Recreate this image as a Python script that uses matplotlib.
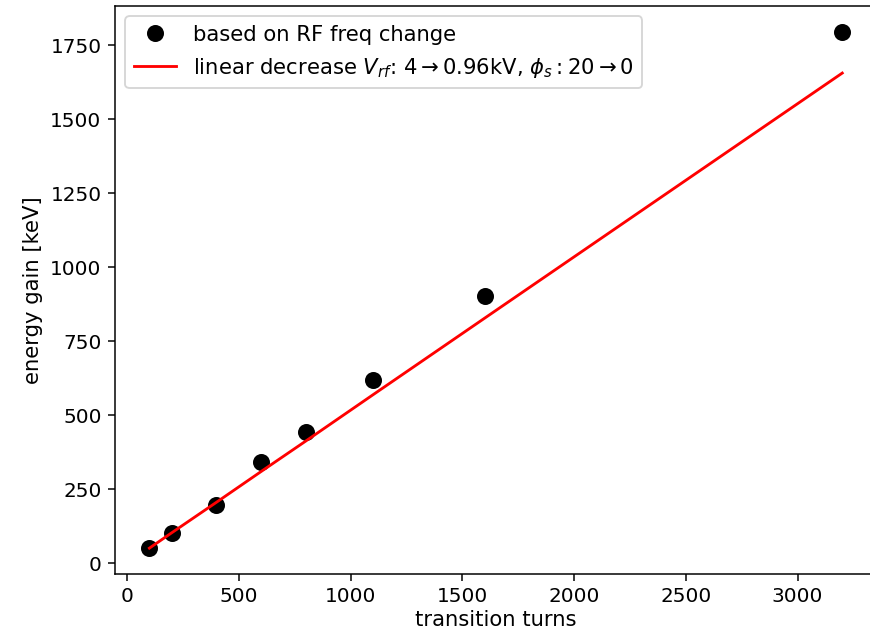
import numpy as np
import matplotlib
matplotlib.use("Agg")
import matplotlib.pyplot as plt

# transition turns and energy gain from the RF frequency change runs
turns = [100, 200, 400, 600, 800, 1100, 1600, 3200]
gain_rf = [52, 102, 196, 342, 442, 617, 902, 1795]

# linear voltage / phase ramp model
gain_linear = [50, 102, 205, 309, 412, 568, 827, 1655]

plt.rcParams['font.size'] = 11.2
plt.rcParams['xtick.labelsize'] = 10.6
plt.rcParams['ytick.labelsize'] = 10.6

fig = plt.figure(figsize=(6.4, 4.7), dpi=136)
ax = fig.add_axes([114.7 / 870, 65 / 639, 761.8 / 870, 568 / 639])

ax.plot(turns, gain_rf, 'ko', markersize=8, label='based on RF freq change')
ax.plot(turns, gain_linear, 'r-',
        label=r'linear decrease $V_{rf}$: 4$\rightarrow$0.96kV, $\phi_s: 20\rightarrow0$')

ax.set_xlabel('transition turns', labelpad=2)
ax.set_ylabel('energy gain [keV]')
ax.legend(loc='upper left')

fig.savefig('out.png', dpi=136)
